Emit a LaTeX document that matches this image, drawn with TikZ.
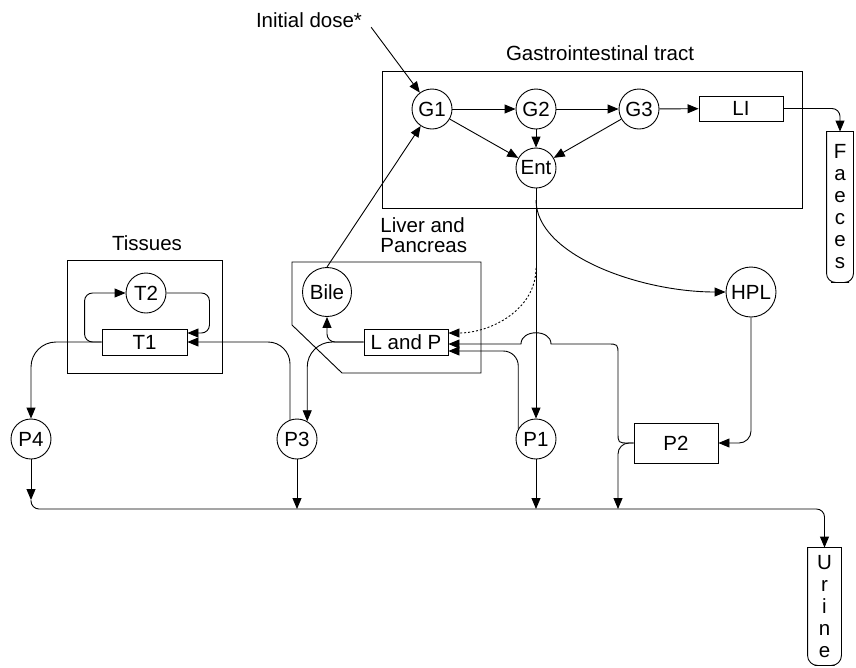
\documentclass[tikz,border=0pt]{standalone}
\usepackage{fontspec}
\setmainfont{Liberation Sans}
\usetikzlibrary{arrows.meta}

\begin{document}
\begin{tikzpicture}[
    x=1pt, y=-1pt,
    line width=0.9pt,
    every node/.style={font=\fontsize{20.5}{20}\selectfont},
    pool/.style={
        circle, draw,
        inner sep=0pt,
        minimum size=40pt
    },
    store/.style={
        rectangle, draw,
        inner sep=0pt,
        minimum width=84pt,
        minimum height=26pt
    },
    organ/.style={rectangle, draw, inner sep=0pt},
    outlet/.style={
        inner sep=0pt,
        minimum width=33pt,
        align=center,
        font=\fontsize{20.5}{22}\selectfont
    },
    arrow/.style={-{Triangle[length=11pt,width=9pt]}},
]
\useasboundingbox (0,0) rectangle (856,667);

% Compartments
\node (gibox) [organ, minimum width=420pt, minimum height=137pt] at (592,139.5) {};
\node (tisbox) [organ, minimum width=155pt, minimum height=113pt] at (144.5,316.5) {};
\draw (292,262) -- (481,262) -- (481,373) -- (342,373) -- (292,325) -- cycle;

% Labels
\node (dose) at (309,20) {Initial dose*};
\node (gilabel) at (600,53) {Gastrointestinal tract};
\node (tislabel) at (147,243) {Tissues};
\node (liverlabel) [anchor=west, align=left, inner sep=0pt] at (380,235) {Liver and\\Pancreas};

% Nodes
\node (G1) [pool] at (432,109) {G1};
\node (G2) [pool] at (536,109) {G2};
\node (G3) [pool] at (639,109) {G3};
\node (Ent) [pool] at (536,168) {Ent};
\node (LI) [store, minimum height=25pt] at (741,108.5) {LI};
\node (faeces) [outlet, minimum width=26pt, minimum height=150pt] at (840,207) {F\\a\\e\\c\\e\\s};

\node (T2) [pool] at (146,293) {T2};
\node (T1) [store, minimum width=85pt] at (144.5,342) {T1};

\node (Bile) [pool, minimum size=49pt] at (327,292) {Bile};
\node (LandP) [store] at (406,342) {L and P};
\node (HPL) [pool, minimum size=50pt] at (751,292) {HPL};

\node (P4) [pool] at (31,439) {P4};
\node (P3) [pool] at (297,439) {P3};
\node (P1) [pool] at (536,439) {P1};
\node (P2) [store, minimum height=40pt] at (676,443) {P2};
\node (urine) [outlet, minimum height=117pt] at (824.5,606.5) {U\\r\\i\\n\\e};

% Outlet outlines
\draw [rounded corners=9pt] (faeces.north west) |- (faeces.south) -| (faeces.north east);
\draw [line cap=rect] (faeces.north west) -- (faeces.north east);
\draw [rounded corners=10pt] (urine.north west) |- (urine.south) -| (urine.north east);
\draw [line cap=rect] (urine.north west) -- (urine.north east);

% Junctions
\coordinate (entsplit) at (536,200);
\coordinate (entdot) at (536,268);
\coordinate (bus0) at (31,500);
\coordinate (bus2) at (618,509);
\coordinate (busend) at (824.5,509);

% Arrows
\draw [arrow, shorten <=9pt] (dose.east) -- (G1);
\draw [arrow] (G1) -- (G2);
\draw [arrow] (G2) -- (G3);
\draw [arrow] (G3) -- (LI);
\draw [arrow] (G1) -- (Ent);
\draw [arrow] (G2) -- (Ent);
\draw [arrow] (G3) -- (Ent);
\draw [arrow, rounded corners=8pt] (LI.east) -| (faeces.north);
\draw [arrow] (Bile.north) -- (G1);

\draw [arrow] (Ent) -- (P1);
\draw [arrow] (entsplit) .. controls (536,255) and (640,292) .. (HPL.west);
\draw [arrow, dash pattern=on 2pt off 2pt] (entdot) .. controls (536,310) and (490,333) .. ([yshift=9pt]LandP.east);

\draw [arrow, rounded corners=8pt] (LandP.west) -| (Bile.south);
\draw [arrow, rounded corners=25pt] (LandP.west) -| (P3.60);
\draw [arrow, rounded corners=22pt] (P3.110) |- (T1.east);
\draw [arrow, rounded corners=25pt] (T1.west) -| (P4.north);
\draw [arrow, rounded corners=8pt] (T1.west) -- ++(-17,0) |- (T2.west);
\draw [arrow, rounded corners=8pt] (T2.east) -- ++(43,0) |- ([yshift=9pt]T1.east);

\draw [arrow, rounded corners=15pt] (P1.150) |- ([yshift=-9pt]LandP.east);
% P2 back to L and P, hopping over the Ent line
\draw [arrow] (P2.west) -- (629,443) .. controls (618,443) .. (618,432) -- (618,355)
    .. controls (618,344) .. (607,344) -- (551,344)
    .. controls (551,329) and (521,329) .. (521,344) -- ([yshift=-2pt]LandP.east);
\draw [arrow, rounded corners=11pt] (P2.west) -| (bus2);
\draw [arrow, rounded corners=12pt] (HPL.south) |- (P2.east);

% Urine collection
\draw [arrow] (P4) -- (bus0);
\draw [arrow] (P3) -- (P3 |- busend);
\draw [arrow] (P1) -- (P1 |- busend);
\draw [arrow, rounded corners=8pt] (bus0) |- (busend) -- (urine.north);

\end{tikzpicture}
\end{document}
